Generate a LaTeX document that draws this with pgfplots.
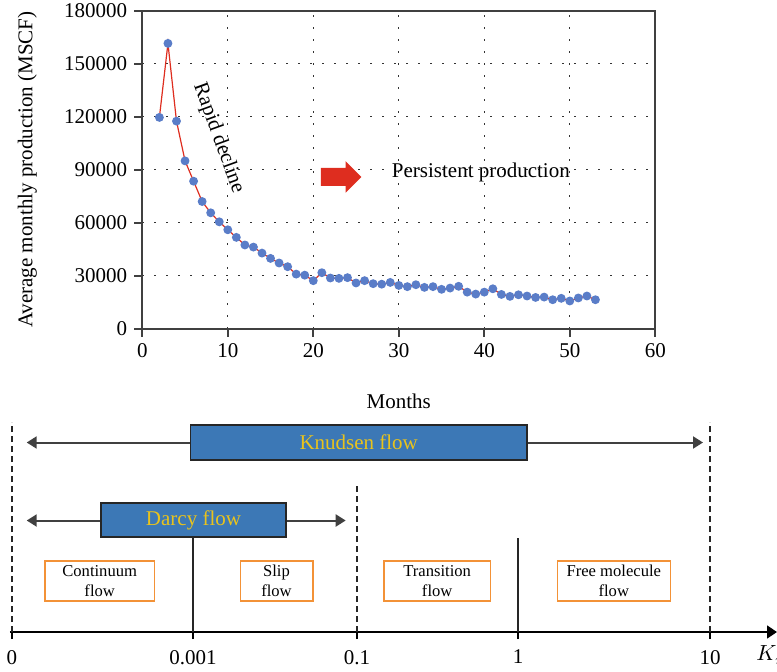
\documentclass[border=0pt]{standalone}
\usepackage{fontspec}
\setmainfont{Liberation Serif}
\usepackage{pgfplots}
\pgfplotsset{compat=1.18}
\usetikzlibrary{arrows.meta,shapes.arrows}

\definecolor{mkblue}{HTML}{5A7DC8}
\definecolor{lnred}{HTML}{DE2D1F}
\definecolor{boxblue}{HTML}{3C78B6}
\definecolor{gold}{HTML}{E9C31C}
\definecolor{orng}{HTML}{F39237}
\definecolor{axgray}{HTML}{404040}

\begin{document}
\begin{tikzpicture}[font=\fontsize{10.5pt}{12pt}\selectfont]
% production curve
\begin{axis}[at={(0,0)}, anchor=south west, scale only axis,
  width=256.5pt, height=159pt,
  xmin=0, xmax=60, ymin=0, ymax=180000,
  xtick={0,10,...,60}, ytick={0,30000,...,180000},
  scaled y ticks=false,
  /pgf/number format/assume math mode=true,
  yticklabel style={/pgf/number format/fixed, /pgf/number format/1000 sep={}},
  grid=major, grid style={black!80, line width=0.7pt, dash pattern=on 0.8pt off 5.2pt},
  tick align=outside, tick pos=left, major tick length=4pt,
  tick style={axgray, line width=0.8pt},
  axis line style={axgray, line width=0.8pt},
  xlabel={Months}, ylabel={Average monthly production (MSCF)},
  xlabel style={at={(axis description cs:0.5,0)}, anchor=center, yshift=-36.5pt},
  ylabel style={at={(axis description cs:0,0.5)}, anchor=center, yshift=57.5pt},
  clip=false]
\addplot[lnred, line width=0.6pt, mark=*, mark size=1.9pt,
  mark options={fill=mkblue, draw=mkblue}] coordinates {
  (2,119600) (3,161500) (4,117500) (5,95000) (6,83500) (7,72000) (8,65600)
  (9,60500) (10,56000) (11,51700) (12,47400) (13,46200) (14,42800) (15,39800)
  (16,37200) (17,35100) (18,30900) (19,30300) (20,27200) (21,31700) (22,28700)
  (23,28500) (24,28900) (25,25900) (26,27200) (27,25500) (28,25200) (29,26200)
  (30,24500) (31,23800) (32,24900) (33,23400) (34,23800) (35,22300) (36,23000)
  (37,24000) (38,20700) (39,19600) (40,20700) (41,22600) (42,19400) (43,18300)
  (44,19200) (45,18500) (46,17700) (47,17900) (48,16400) (49,17200) (50,15700)
  (51,17400) (52,18500) (53,16400)
};
\node[rotate=-70] at (axis cs:8.9,107900) {Rapid decline};
\node[single arrow, fill=lnred, draw=none, minimum height=20.3pt,
  inner xsep=0pt, inner ysep=4.3pt, single arrow head extend=3.35pt]
  at (axis cs:22.73,85900) {};
\node at (axis cs:39.6,88700) {Persistent production};
\end{axis}

% flow regimes
\begin{axis}[at={(-66.15pt,-25.65pt)}, anchor=north west, scale only axis,
  width=383.5pt, height=126pt,
  xmin=10, xmax=777, ymin=39, ymax=291,
  axis x line=bottom, axis y line=none,
  x axis line style={black, line width=0.8pt, -{Triangle[length=5pt,width=6.5pt]}},
  xtick={12,193,357,518,710}, xticklabels={0,0.001,0.1,1,10},
  /pgf/number format/assume math mode=true,
  ytick=\empty,
  tick align=outside, major tick length=3.5pt,
  tick style={black, line width=0.8pt},
  xticklabel style={yshift=-2pt},
  clip=false]
\addplot[draw=none] coordinates {(12,39) (710,249)};
% dashed limits
\draw[black!85, line width=0.7pt, dash pattern=on 3pt off 2pt] (axis cs:12,39) -- (axis cs:12,249);
\draw[black!85, line width=0.7pt, dash pattern=on 3pt off 2pt] (axis cs:710,39) -- (axis cs:710,249);
\draw[black!85, line width=0.7pt, dash pattern=on 3pt off 2pt] (axis cs:357,39) -- (axis cs:357,188);
% solid boundaries
\draw[black!85, line width=0.7pt] (axis cs:193,39) -- (axis cs:193,134);
\draw[black!85, line width=0.7pt] (axis cs:518,39) -- (axis cs:518,133);
% Knudsen flow
\draw[black!75, line width=1pt, {Triangle[length=5pt,width=6pt]}-{Triangle[length=5pt,width=6pt]}]
  (axis cs:26.7,228.5) -- (axis cs:703,228.5);
\draw[fill=boxblue, draw=black!85, line width=0.7pt] (axis cs:190.5,246) rectangle (axis cs:527,211);
\node[text=gold] at (axis cs:358.7,228.5) {Knudsen flow};
% Darcy flow
\draw[black!75, line width=1pt, {Triangle[length=5pt,width=6pt]}-{Triangle[length=5pt,width=6pt]}]
  (axis cs:26.7,150.5) -- (axis cs:345.7,150.5);
\draw[fill=boxblue, draw=black!85, line width=0.7pt] (axis cs:101,168) rectangle (axis cs:286,134);
\node[text=gold] at (axis cs:193.5,151) {Darcy flow};
% regimes
\draw[orng, line width=0.8pt, fill=white] (axis cs:45,110) rectangle (axis cs:154.3,70);
\draw[orng, line width=0.8pt, fill=white] (axis cs:240.3,110) rectangle (axis cs:312.7,70);
\draw[orng, line width=0.8pt, fill=white] (axis cs:384,110) rectangle (axis cs:490.3,70);
\draw[orng, line width=0.8pt, fill=white] (axis cs:557.3,110) rectangle (axis cs:670.3,70);
\node[align=center, font=\fontsize{8.3pt}{9.7pt}\selectfont] at (axis cs:99.7,90) {Continuum\\flow};
\node[align=center, font=\fontsize{8.3pt}{9.7pt}\selectfont] at (axis cs:276.5,90) {Slip\\flow};
\node[align=center, font=\fontsize{8.3pt}{9.7pt}\selectfont] at (axis cs:437.2,90) {Transition\\flow};
\node[align=center, font=\fontsize{8.3pt}{9.7pt}\selectfont] at (axis cs:613.8,90) {Free molecule\\flow};
\node[anchor=west, inner sep=0pt] at (axis cs:756,16) {$K_n$};
\end{axis}
\pgfresetboundingbox
\path[use as bounding box] (-71.15pt,164.35pt) rectangle (317.35pt,-171.15pt);
\end{tikzpicture}
\end{document}
